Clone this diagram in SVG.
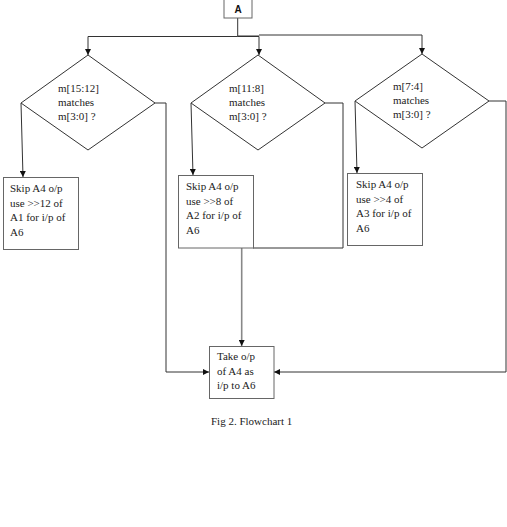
<svg xmlns="http://www.w3.org/2000/svg" width="507" height="527" viewBox="0 0 507 527">
<style>
.t{font-family:"Liberation Serif","Times New Roman",serif;font-size:11px;fill:#222}
.ln{fill:none;stroke:#333;stroke-width:1}
.bx{fill:#fff;stroke:#666;stroke-width:1}
.dm{fill:#fff;stroke:#333;stroke-width:1}
</style>
<defs>
<marker id="ah" viewBox="0 0 10 10" refX="10" refY="5" markerWidth="6" markerHeight="6" orient="auto" markerUnits="userSpaceOnUse">
<path d="M0,0 L10,5 L0,10 z" fill="#111"/>
</marker>
</defs>
<rect width="507" height="527" fill="#fff"/>
<g id="connectors">
<path class="ln" d="M237.7,18 V36.5 H88 V55" marker-end="url(#ah)"/>
<path class="ln" d="M237.7,36.5 H259 V55" marker-end="url(#ah)"/>
<path class="ln" d="M259,35 H422 V54" marker-end="url(#ah)"/>
<path class="ln" d="M237.7,36 H259" stroke-width="2" stroke="#555"/>
<path class="ln" d="M21,103 L23,177" marker-end="url(#ah)"/>
<path class="ln" d="M191,103 L193,175" marker-end="url(#ah)"/>
<path class="ln" d="M355,101 L357,173" marker-end="url(#ah)"/>
<path class="ln" d="M155,103 H166 V372 H209" marker-end="url(#ah)"/>
<path class="ln" d="M325,103 H343 V248 H253"/>
<path class="ln" d="M489,101 H506 V372 H274" marker-end="url(#ah)"/>
<path d="M241.7,248 V346" fill="none" stroke="#888" stroke-width="1.6" marker-end="url(#ah)"/>
</g>
<g id="nodeA">
<rect class="bx" x="224" y="-1" width="28" height="19" stroke="#444"/>
<text x="238" y="12.5" text-anchor="middle" style="font-family:'Liberation Sans',Arial,sans-serif;font-size:10px;font-weight:bold;fill:#111">A</text>
</g>
<g id="d1">
<polygon class="dm" points="88,55 155,103 88,150 21,103"/>
<text class="t" x="58" y="92">m[15:12]</text>
<text class="t" x="58" y="106">matches</text>
<text class="t" x="58" y="120">m[3:0] ?</text>
</g>
<g id="d2">
<polygon class="dm" points="258,55 325,103 258,150 191,103"/>
<text class="t" x="229" y="92">m[11:8]</text>
<text class="t" x="229" y="106">matches</text>
<text class="t" x="229" y="120">m[3:0] ?</text>
</g>
<g id="d3">
<polygon class="dm" points="422,54 489,101 422,148 355,101"/>
<text class="t" x="393" y="90">m[7:4]</text>
<text class="t" x="393" y="104">matches</text>
<text class="t" x="393" y="118">m[3:0] ?</text>
</g>
<g id="b1">
<rect class="bx" x="3.5" y="177.5" width="75" height="72"/>
<text class="t" x="10" y="192">Skip A4 o/p</text>
<text class="t" x="10" y="206.5">use &gt;&gt;12 of</text>
<text class="t" x="10" y="221">A1 for i/p of</text>
<text class="t" x="10" y="235.5">A6</text>
</g>
<g id="b2">
<rect class="bx" x="178.5" y="175.5" width="75" height="72.5"/>
<text class="t" x="186" y="190">Skip A4 o/p</text>
<text class="t" x="186" y="204.5">use &gt;&gt;8 of</text>
<text class="t" x="186" y="219">A2 for i/p of</text>
<text class="t" x="186" y="233.5">A6</text>
</g>
<g id="b3">
<rect class="bx" x="347.5" y="173.5" width="75" height="72" stroke="#444"/>
<text class="t" x="356" y="188">Skip A4 o/p</text>
<text class="t" x="356" y="202.5">use &gt;&gt;4 of</text>
<text class="t" x="356" y="217">A3  for i/p of</text>
<text class="t" x="356" y="231.5">A6</text>
</g>
<g id="take">
<rect class="bx" x="209.5" y="346.5" width="64.5" height="52"/>
<text class="t" x="217" y="360">Take o/p</text>
<text class="t" x="217" y="374.5">of A4 as</text>
<text class="t" x="217" y="389">i/p to A6</text>
</g>
<text class="t" x="211" y="425">Fig 2. Flowchart 1</text>
</svg>
